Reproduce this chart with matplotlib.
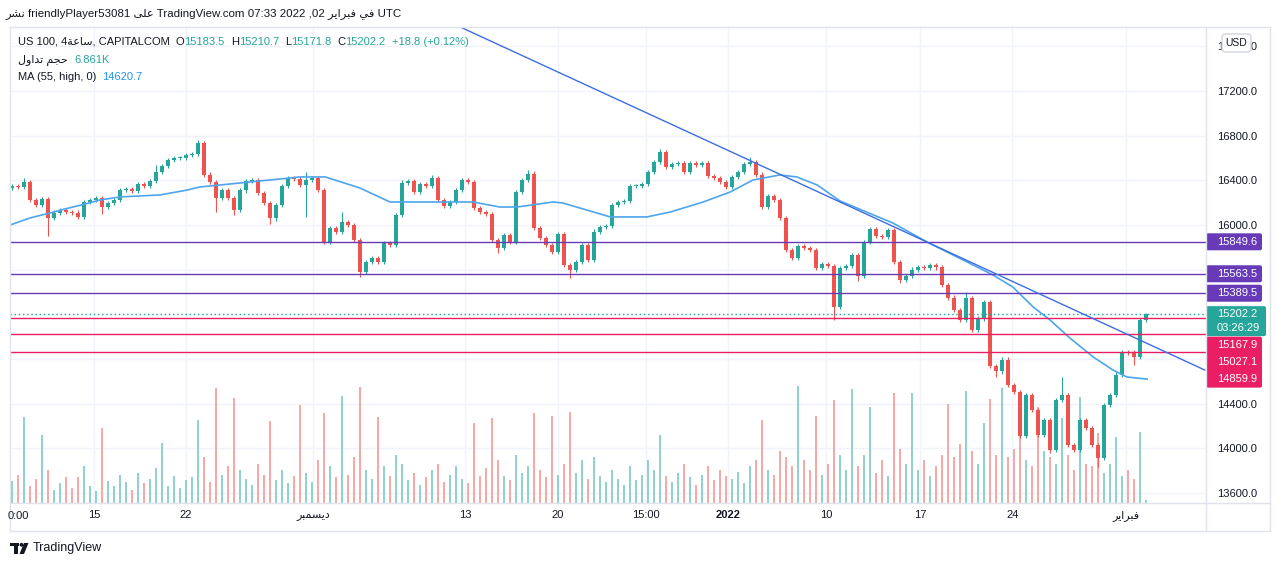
import numpy as np
import matplotlib
matplotlib.use("Agg")
import matplotlib.pyplot as plt
import matplotlib.transforms as mtransforms
from matplotlib.patches import FancyBboxPatch, Rectangle, Polygon, Circle
from matplotlib.lines import Line2D

plt.rcParams["font.family"] = ["Liberation Sans", "DejaVu Sans"]

W, H = 1280, 566

# arabic words in visual order (presentation forms)
DEC = "\ufeae\ufe92\ufee4\ufeb4\ufef3\ufea9"
FEB = "\ufeae\ufef3\ufe8d\ufeae\ufe92\ufed3"
SAAH = "\ufe94\ufecb\ufe8e\ufeb3"
VOL_NAME = "\ufedd\ufeed\ufe8d\ufeaa\ufe97 \ufee2\ufea0\ufea3"
NASHR = "\ufeae\ufeb8\ufee7"
ALA = "\ufef0\ufee0\ufecb"
FI = "\ufef2\ufed3"

# ---- data (4h candles, thinned) ----
first_open = 16330
closes = [
    16350, 16340, 16385, 16225, 16180, 16230, 16065, 16110, 16135, 16115,
    16110, 16070, 16205, 16225, 16240, 16160, 16195, 16225, 16315, 16320,
    16305, 16365, 16350, 16395, 16475, 16530, 16580, 16600, 16600, 16625,
    16635, 16735, 16450, 16385, 16240, 16315, 16240, 16135, 16310, 16395,
    16405, 16285, 16195, 16060, 16180, 16350, 16420, 16410, 16360, 16405,
    16420, 16315, 15850, 15975, 15940, 16025, 16000, 15865, 15580, 15670,
    15705, 15670, 15840, 15820, 16090, 16375, 16395, 16295, 16365, 16350,
    16420, 16225, 16170, 16205, 16315, 16405, 16385, 16150, 16115, 16100,
    15865, 15795, 15910, 15850, 16295, 16405, 16460, 15975, 15885, 15820,
    15760, 15920, 15640, 15600, 15670, 15820, 15690, 15940, 15980, 15990,
    16180, 16205, 16215, 16350, 16350, 16365, 16475, 16565, 16650, 16520,
    16545, 16555, 16475, 16555, 16535, 16555, 16440, 16420, 16385, 16340,
    16430, 16475, 16545, 16565, 16450, 16160, 16260, 16225, 16065, 15775,
    15705, 15810, 15795, 15775, 15615, 15650, 15635, 15265, 15615, 15635,
    15730, 15545, 15850, 15965, 15900, 15895, 15955, 15670, 15510, 15545,
    15600, 15625, 15615, 15640, 15620, 15465, 15350, 15240, 15150, 15345,
    15060, 15165, 15310, 14740, 14690, 14795, 14570, 14505, 14115, 14480,
    14345, 14120, 14255, 13990, 14435, 14480, 14030, 13985, 14255, 14185,
    14030, 13915, 14390, 14480, 14660, 14865, 14860, 14820, 15150, 15202.2,
]
wick = 20
high_marks = {2: 16420, 24: 16540, 31: 16760, 49: 16470, 55: 16115, 65: 16400,
              70: 16445, 86: 16490, 108: 16680, 123: 16610, 159: 15400,
              175: 14640, 189: 15210.7}
low_marks = {6: 15905, 15: 16100, 34: 16120, 37: 16090, 43: 16005, 49: 16070,
             58: 15535, 81: 15745, 93: 15525, 137: 15150, 141: 15500, 148: 15480,
             164: 14640, 168: 14090, 173: 13960, 181: 13835, 187: 14750}

volume_k = [
    50, 65, 198, 40, 55, 156, 75, 30, 45, 60,
    35, 60, 85, 40, 28, 173, 50, 38, 65, 48,
    30, 70, 45, 55, 80, 138, 40, 62, 35, 52,
    60, 191, 105, 48, 265, 65, 85, 242, 75, 55,
    42, 90, 65, 189, 52, 75, 45, 62, 225, 70,
    48, 98, 207, 85, 60, 246, 65, 105, 267, 75,
    55, 198, 85, 62, 110, 90, 52, 70, 42, 60,
    75, 90, 48, 65, 85, 55, 45, 184, 62, 80,
    196, 98, 62, 52, 110, 70, 85, 207, 75, 60,
    200, 65, 90, 209, 70, 98, 55, 105, 62, 48,
    75, 55, 42, 85, 52, 65, 98, 75, 156, 62,
    48, 70, 90, 60, 42, 65, 85, 52, 75, 62,
    55, 72, 45, 85, 98, 190, 75, 65, 120, 105,
    85, 269, 98, 75, 200, 65, 90, 237, 110, 75,
    262, 85, 110, 221, 70, 98, 62, 253, 125, 90,
    253, 75, 98, 62, 85, 110, 228, 105, 135, 258,
    120, 90, 184, 240, 110, 265, 105, 125, 225, 98,
    85, 221, 120, 105, 90, 196, 110, 75, 244, 90,
    85, 161, 70, 90, 152, 62, 75, 55, 163, 6.861,
]

ma_pos = [-0.3, 3, 6.3, 8.8, 12.2, 14.7, 18, 24.7, 29.2, 31.3, 38, 43, 48, 52.2,
          58, 63, 68, 76.8, 81.3, 84.2, 90.2, 91.8, 95.8, 99.7, 105.8, 109.7,
          115.2, 119.7, 123.5, 128, 130.8, 134.2, 138, 146.8, 152.5, 157.5,
          163.5, 166.8, 170.2, 173, 176.3, 180.2, 183.5, 185.8, 189.2]
ma_vals = [16000, 16063, 16107, 16143, 16188, 16224, 16251, 16269, 16313, 16340,
           16376, 16403, 16430, 16430, 16331, 16206, 16206, 16206, 16161, 16161,
           16206, 16197, 16134, 16072, 16072, 16116, 16206, 16295, 16403, 16448,
           16430, 16358, 16215, 16018, 15848, 15714, 15553, 15445, 15266, 15150,
           14989, 14819, 14702, 14640, 14620.7]

trend_pos = [74.7, 198.8]
trend_vals = [17772, 14702]

purple_levels = [15849.6, 15563.5, 15389.5]
red_levels = [15167.9, 15027.1, 14859.9]
last_price = 15202.2
last_ohlc = [("O", 15183.5), ("H", 15210.7), ("L", 15171.8), ("C", 15202.2)]
change = "+18.8 (+0.12%)"
countdown = "03:26:29"

price_ticks = list(range(13600, 17601, 400))
date_pos = [13.7, 29, 50.2, 75.5, 91, 105.7, 119.3, 135.7, 151.3, 166.7, 185.7]
date_labels = ["15", "22", DEC, "13", "20", "15:00", "2022", "10", "17", "24", FEB]

# ---- colours ----
UP, DOWN = "#26a69a", "#ef5350"
VUP, VDOWN = "#92d2cc", "#f7a9a7"
TEXT = "#131722"
GRID = "#f0f3fa"
FRAME = "#e0e3eb"
PURPLE, RED = "#673ab7", "#e91e63"
MA_C, TREND_C = "#4ea5ec", "#3d6ee0"

fig = plt.figure(figsize=(W / 100, H / 100), dpi=100, facecolor="white")
rect = [10 / W, 63 / H, 1196 / W, 476 / H]
axv = fig.add_axes(rect)
ax = fig.add_axes(rect, sharex=axv)
ax.patch.set_alpha(0)

n = len(closes)
idx = np.arange(n)
c = np.array(closes, dtype=float)
o = np.array([first_open] + closes[:-1], dtype=float)
hi = np.array([high_marks.get(i, max(o[i], c[i]) + wick) for i in range(n)])
lo = np.array([low_marks.get(i, min(o[i], c[i]) - wick) for i in range(n)])
up = c >= o
ccol = np.where(up, UP, DOWN)

ax.set_xlim(-0.33, 199)
ax.set_ylim(13512, 17772)
axv.set_ylim(0, 1095)

# grid + volume underneath
blend = mtransforms.blended_transform_factory(axv.transAxes, ax.transData)
axv.hlines(price_ticks, 0, 1, transform=blend, color=GRID, lw=1, zorder=0)
axv.vlines(date_pos, 0, 1, transform=axv.get_xaxis_transform(), color=GRID, lw=1, zorder=0)
axv.bar(idx, volume_k, width=0.45, color=np.where(up, VUP, VDOWN), zorder=1)

# candles
ax.vlines(idx, lo, hi, colors=ccol, lw=0.8, zorder=2)
ax.bar(idx, np.maximum(np.abs(c - o), 6), bottom=np.minimum(o, c), width=0.55,
       color=ccol, zorder=3)

ax.plot(ma_pos, ma_vals, color=MA_C, lw=1.2, zorder=4)
for lvl in purple_levels:
    ax.axhline(lvl, color=PURPLE, lw=1, zorder=5)
for lvl in red_levels:
    ax.axhline(lvl, color=RED, lw=1, zorder=5)
ax.axhline(last_price, color=UP, lw=1, ls=(0, (1, 2)), zorder=5)
ax.plot(trend_pos, trend_vals, color=TREND_C, lw=1, zorder=6)

for a in (ax, axv):
    for s in a.spines.values():
        s.set_visible(False)
axv.tick_params(left=False, bottom=False, labelleft=False, labelbottom=False)

ax.yaxis.tick_right()
ax.set_yticks(price_ticks, [f"{p:.1f}" for p in price_ticks])
ax.tick_params(axis="y", length=0, pad=8, labelsize=8, labelcolor=TEXT)
ax.set_xticks(date_pos, date_labels)
ax.tick_params(axis="x", length=0, pad=5, labelsize=8, labelcolor=TEXT)
for lab in ax.get_xticklabels():
    if lab.get_text() == "2022":
        lab.set_fontweight("bold")


def ftext(x, y, s, **kw):
    kw.setdefault("va", "center")
    kw.setdefault("ha", "left")
    kw.setdefault("fontsize", 8)
    return fig.text(x / W, 1 - y / H, s, **kw)


def pbox(x0, ytop, w, h, fc, ec="none", r=2):
    fig.add_artist(FancyBboxPatch((x0, H - ytop - h), w, h,
                                  boxstyle=f"round,pad=0,rounding_size={r}",
                                  fc=fc, ec=ec, lw=1,
                                  transform=mtransforms.IdentityTransform()))


def fline(x0, y0, x1, y1, color=FRAME):
    fig.add_artist(Line2D([x0 / W, x1 / W], [1 - y0 / H, 1 - y1 / H],
                          color=color, lw=1, transform=fig.transFigure))


def py(p):
    return H - ax.transData.transform((0, p))[1]


# frame
fline(10, 27, 1270, 27)
fline(10, 27, 10, 531)
fline(1270, 27, 1270, 531)
fline(10, 531, 1270, 531)
fline(10, 503, 1270, 503)
fline(1206, 27, 1206, 531)

ftext(8, 516, "0:00", color=TEXT)

# price labels on the right axis
for lvl in purple_levels:
    yc = py(lvl)
    pbox(1206, yc - 8.5, 56, 17, PURPLE)
    ftext(1217, yc, f"{lvl:.1f}", color="white")
yc = py(last_price)
pbox(1206, yc - 8, 60, 30, UP)
ftext(1217, yc, f"{last_price:.1f}", color="white")
ftext(1217, yc + 14, countdown, color="white")
top = yc + 22.5
pbox(1206, top, 56, 51, RED)
for k, lvl in enumerate(red_levels):
    ftext(1217, top + 8.5 + 17 * k, f"{lvl:.1f}", color="white")

pbox(1222, 34, 29, 18, "white", ec="#d1d4dc", r=3)
ftext(1236.5, 43, "USD", ha="center", color=TEXT, fontsize=7.5)

# header and legend
ftext(5, 14, f"{NASHR} friendlyPlayer53081 {ALA} TradingView.com 07:33 2022 ,02 {FEB} {FI} UTC",
      color=TEXT, fontsize=8.25)

renderer = fig.canvas.get_renderer()


def text_run(x, y, parts, size=8):
    for s, color, gap in parts:
        t = ftext(x, y, s, color=color, fontsize=size)
        x += t.get_window_extent(renderer).width + gap


parts = [(f"US 100, 4{SAAH}, CAPITALCOM", TEXT, 6)]
for key, val in last_ohlc:
    parts += [(key, TEXT, 0), (f"{val:.1f}", UP, 6)]
parts.append((change, UP, 0))
text_run(18, 42, parts)
text_run(18, 60, [(VOL_NAME, TEXT, 7), (f"{volume_k[-1]:.3f}K", UP, 0)])
text_run(18, 77, [("MA (55, high, 0)", TEXT, 6), (f"{ma_vals[-1]:.1f}", "#2196f3", 0)])

# TradingView logo
for p in [Rectangle((10, H - 546), 9, 3.5), Rectangle((14, H - 554), 4, 11),
          Polygon([(24, H - 543), (28.5, H - 543), (24, H - 554), (19.5, H - 554)]),
          Circle((21.5, H - 544.8), 1.9)]:
    p.set_transform(mtransforms.IdentityTransform())
    p.set_facecolor(TEXT)
    p.set_edgecolor("none")
    fig.add_artist(p)
ftext(33, 548, "TradingView", color=TEXT, fontsize=9)

fig.savefig("out.png", dpi=100, facecolor="white")
